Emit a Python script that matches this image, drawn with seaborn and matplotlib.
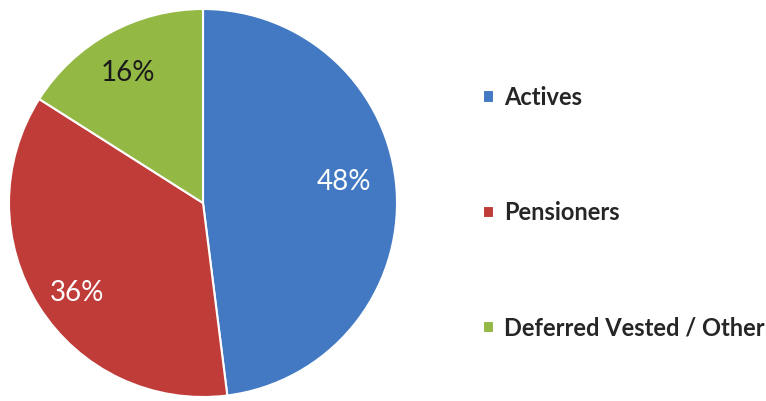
import matplotlib
matplotlib.use("Agg")
import matplotlib.pyplot as plt
import seaborn as sns

categories = ["Actives", "Pensioners", "Deferred Vested / Other"]
values = [48, 36, 16]
colors = ["#4279c2", "#c03c38", "#93b844"]
label_colors = ["white", "white", "#1a1a1a"]
# percentage-label anchor points inside the pie (unit-radius coords)
label_xy = [(0.727, 0.108), (-0.649, -0.464), (-0.387, 0.670)]

sns.set_style("white")
plt.rcParams["font.family"] = ["Lato", "DejaVu Sans"]

fig = plt.figure(figsize=(7.66, 4.01), dpi=100)
ax = fig.add_axes([9 / 766, 4 / 401, 388 / 766, 388 / 401])
wedges, texts, autotexts = ax.pie(
    values,
    colors=sns.color_palette(colors),
    startangle=90,
    counterclock=False,
    autopct="%d%%",
    pctdistance=0.78,
    wedgeprops=dict(edgecolor="white", linewidth=1.5),
    textprops=dict(fontsize=20),
)
for t, c, xy in zip(autotexts, label_colors, label_xy):
    t.set_color(c)
    t.set_position(xy)
ax.set_xlim(-1, 1)
ax.set_ylim(-1, 1)
ax.set_aspect("equal")
ax.axis("off")

leg = fig.legend(
    wedges, categories,
    loc="upper left", bbox_to_anchor=(462 / 766, 1 - 65 / 401),
    frameon=False, handlelength=0.45, handleheight=0.45, handletextpad=0.45,
    labelspacing=3.9, prop=dict(size=17, weight="bold"),
)
fig.savefig("out.png", dpi=100)
